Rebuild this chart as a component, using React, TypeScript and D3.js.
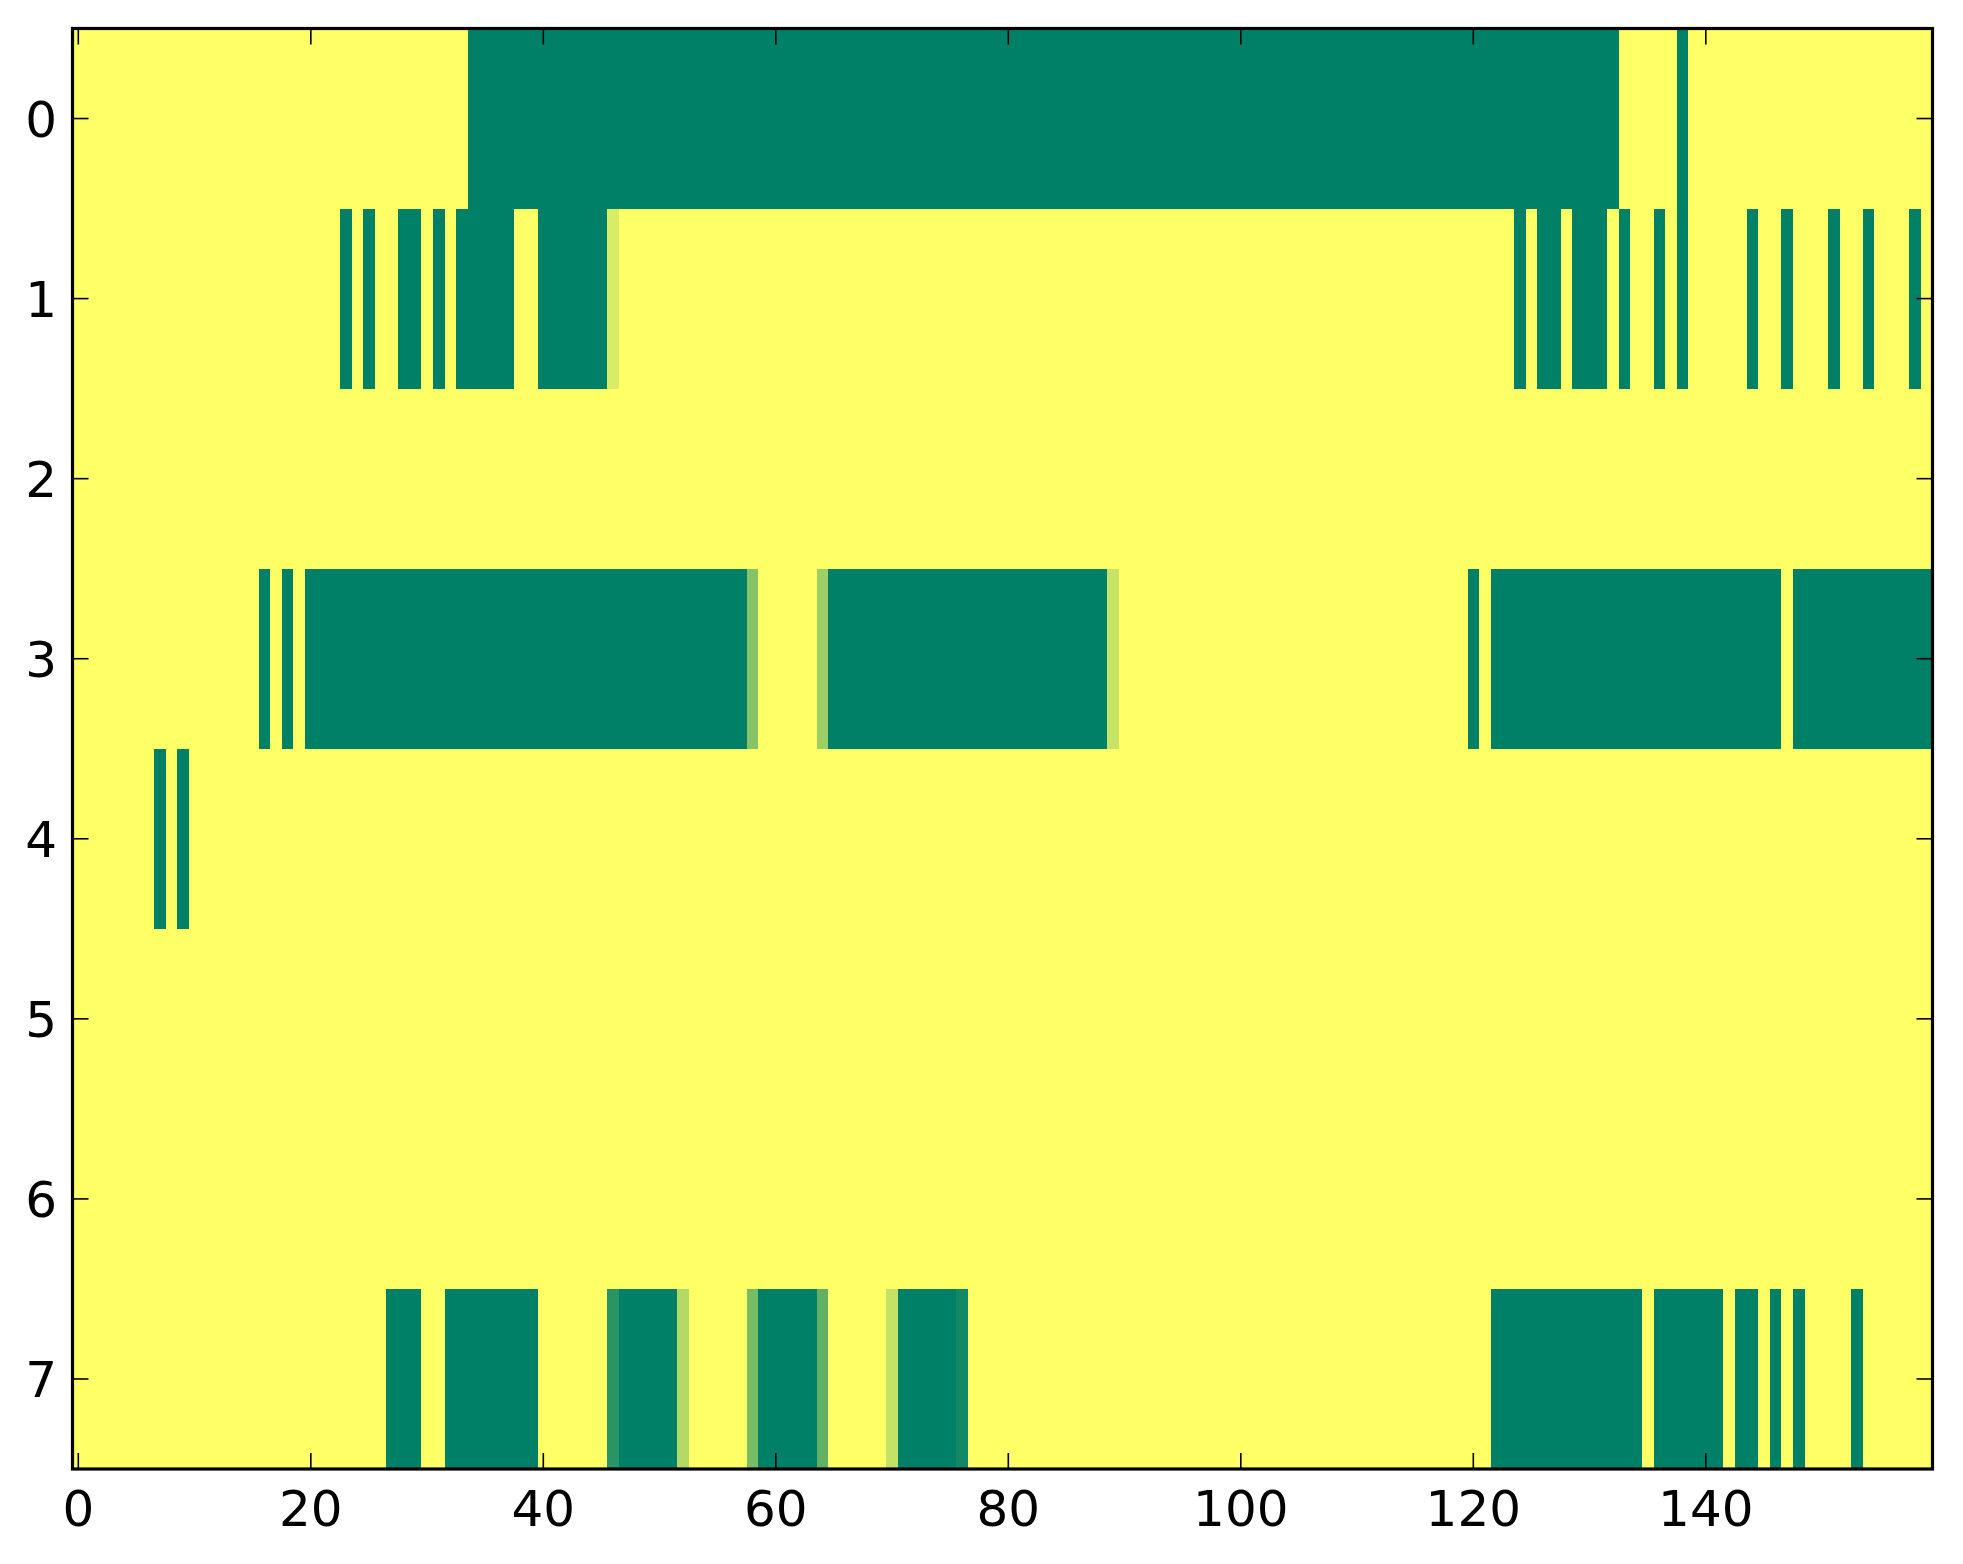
import React from "react";
import * as d3 from "d3";

// Runs per row: [startCol, endCol, value]  (value 1 = full green, fractions = partial)
const row0: [number, number, number][] = [[34, 132, 1], [138, 138, 1]];
const row1: [number, number, number][] = [
  [23, 23, 1], [25, 25, 1], [28, 29, 1], [31, 31, 1], [33, 37, 1], [40, 45, 1], [46, 46, 0.15],
  [124, 124, 1], [126, 127, 1], [129, 131, 1], [133, 133, 1], [136, 136, 1], [138, 138, 1],
  [144, 144, 1], [147, 147, 1], [151, 151, 1], [154, 154, 1], [158, 158, 1],
];
const row2: [number, number, number][] = [];
const row3: [number, number, number][] = [
  [16, 16, 1], [18, 18, 1], [20, 57, 1], [58, 58, 0.47], [64, 64, 0.38], [65, 88, 1], [89, 89, 0.22],
  [120, 120, 1], [122, 146, 1], [148, 159, 1],
];
const row4: [number, number, number][] = [[7, 7, 1], [9, 9, 1]];
const row5: [number, number, number][] = [];
const row6: [number, number, number][] = [];
const row7: [number, number, number][] = [
  [27, 29, 1], [32, 39, 1], [46, 46, 0.84], [47, 51, 1], [52, 52, 0.3], [58, 58, 0.53], [59, 63, 1],
  [64, 64, 0.62], [70, 70, 0.23], [71, 75, 1], [76, 76, 0.93],
  [122, 134, 1], [136, 141, 1], [143, 144, 1], [146, 146, 1], [148, 148, 1], [153, 153, 1],
];
const rowRuns = [row0, row1, row2, row3, row4, row5, row6, row7];
const nCols = 160;
const xTicks = [0, 20, 40, 60, 80, 100, 120, 140];
const yTicks = [0, 1, 2, 3, 4, 5, 6, 7];

const W = 1963;
const H = 1564;
const left = 72.5, right = 1932.5, top = 28.5, bottom = 1469;

export default function App() {
  const matrix: number[][] = rowRuns.map((runs) => {
    const row = new Array(nCols).fill(0);
    runs.forEach(([s, e, v]) => {
      for (let c = s; c <= e; c++) row[c] = v;
    });
    return row;
  });
  const x = d3.scaleLinear().domain([-0.5, nCols - 0.5]).range([left, right]);
  const y = d3.scaleLinear().domain([-0.5, 7.5]).range([top, bottom]);
  const color = d3.scaleLinear<string>().domain([0, 1]).range(["#ffff66", "#008066"]);
  const tl = 16;
  const font = "'DejaVu Sans', sans-serif";
  return (
    <div style={{ position: "fixed", left: 0, top: 0, width: W, height: H, background: "#fff" }}>
      <svg width={W} height={H} style={{ display: "block" }}>
        <rect x={0} y={0} width={W} height={H} fill="#fff" />
        <g shapeRendering="crispEdges">
          {matrix.map((row, r) =>
            row.map((v, c) => (
              <rect
                key={`${r}-${c}`}
                x={x(c - 0.5)}
                y={y(r - 0.5)}
                width={x(c + 0.5) - x(c - 0.5)}
                height={y(r + 0.5) - y(r - 0.5)}
                fill={color(v)}
              />
            ))
          )}
        </g>
        {xTicks.map((t) => (
          <g key={`xt${t}`}>
            <line x1={x(t)} x2={x(t)} y1={bottom} y2={bottom - tl} stroke="#000" strokeWidth={1.6} />
            <line x1={x(t)} x2={x(t)} y1={top} y2={top + tl} stroke="#000" strokeWidth={1.6} />
            <text x={x(t)} y={1526} textAnchor="middle" fontFamily={font} fontSize={50} fill="#000">
              {t}
            </text>
          </g>
        ))}
        {yTicks.map((t) => (
          <g key={`yt${t}`}>
            <line x1={left} x2={left + tl} y1={y(t)} y2={y(t)} stroke="#000" strokeWidth={1.6} />
            <line x1={right} x2={right - tl} y1={y(t)} y2={y(t)} stroke="#000" strokeWidth={1.6} />
            <text x={57} y={y(t) + 18.2} textAnchor="end" fontFamily={font} fontSize={50} fill="#000">
              {t}
            </text>
          </g>
        ))}
        <rect x={left} y={top} width={right - left} height={bottom - top} fill="none" stroke="#000" strokeWidth={3.2} />
      </svg>
    </div>
  );
}
